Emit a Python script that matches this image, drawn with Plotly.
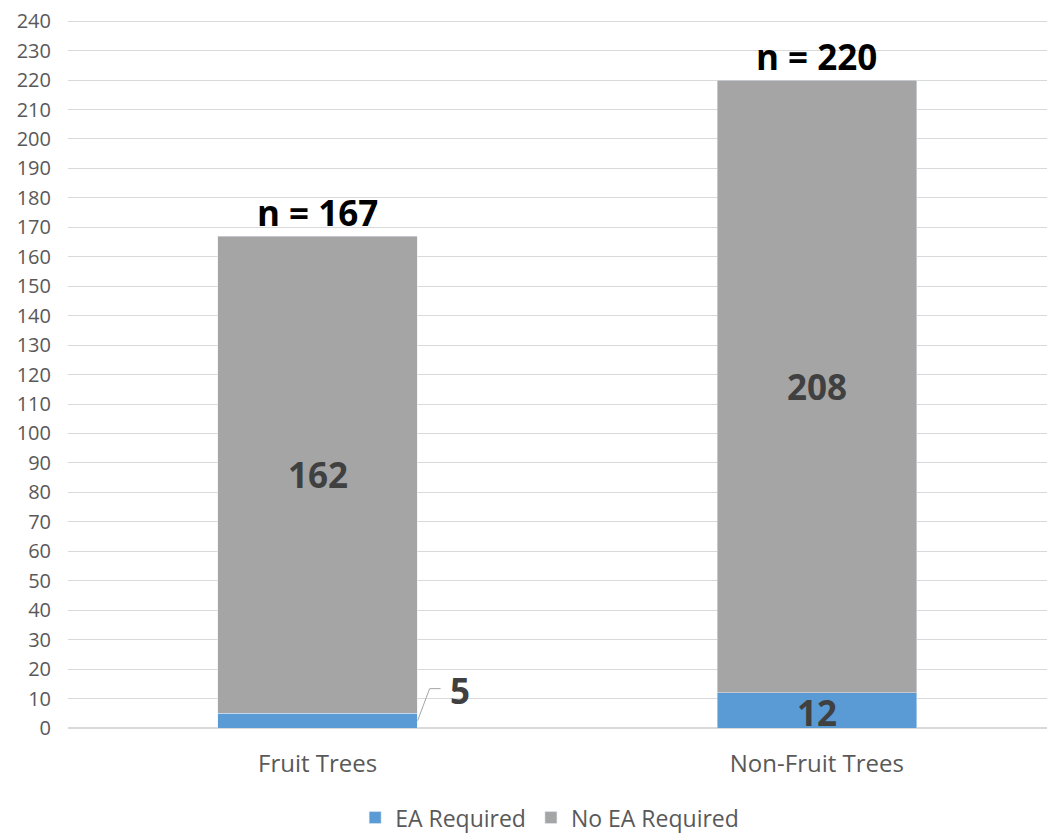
import plotly.graph_objects as go

categories = ["Fruit Trees", "Non-Fruit Trees"]
ea_required = [5, 12]
no_ea_required = [162, 208]
totals = [167, 220]

BLUE = "#5B9BD5"
GRAY = "#A5A5A5"
FONT = "Open Sans, sans-serif"

fig = go.Figure()
fig.add_trace(go.Bar(x=categories, y=ea_required, name="EA Required",
                     marker_color=BLUE, width=0.4))
fig.add_trace(go.Bar(x=categories, y=no_ea_required, name="No EA Required",
                     marker_color=GRAY, width=0.4))

# segment labels
seg_font = dict(family=FONT, size=35, color="#404040")
for i, cat in enumerate(categories):
    v = no_ea_required[i]
    fig.add_annotation(x=cat, y=ea_required[i] + v / 2, text="<b>%d</b>" % v,
                       showarrow=False, font=seg_font)
fig.add_annotation(x=categories[1], y=ea_required[1] / 2, text="<b>%d</b>" % ea_required[1],
                   showarrow=False, font=seg_font, yshift=-2)

# leader label for the small blue segment (elbow line + text)
leader = dict(color="#A5A5A5", width=1)
fig.add_shape(type="line", xref="x", yref="y", xsizemode="pixel", ysizemode="pixel",
              xanchor=0, yanchor=ea_required[0] / 2, x0=100, y0=0, x1=112, y1=32, line=leader)
fig.add_shape(type="line", xref="x", yref="y", xsizemode="pixel", ysizemode="pixel",
              xanchor=0, yanchor=ea_required[0] / 2, x0=112, y0=32, x1=123, y1=32, line=leader)
fig.add_annotation(x=categories[0], y=ea_required[0] / 2, text="<b>%d</b>" % ea_required[0],
                   xshift=142, yshift=30, showarrow=False, font=seg_font)

# total labels on top of each stack
for cat, tot in zip(categories, totals):
    fig.add_annotation(x=cat, y=tot, text="<b>n = %d</b>" % tot, showarrow=False,
                       yanchor="bottom", yshift=-2,
                       font=dict(family=FONT, size=35, color="black"))

fig.update_layout(
    barmode="stack",
    width=1047, height=827,
    margin=dict(l=60, r=0, t=12, b=107),
    plot_bgcolor="white", paper_bgcolor="white",
    font=dict(family=FONT, color="#595959"),
    showlegend=True,
    legend=dict(orientation="h", x=0.488, xanchor="center",
                yref="container", y=0.021, yanchor="middle",
                font=dict(family=FONT, size=23, color="#595959"),
                traceorder="normal"),
    xaxis=dict(range=[-0.5, 1.477], automargin=False,
               tickfont=dict(family=FONT, size=24, color="#595959"),
               showline=True, linecolor="#D9D9D9", ticks="", ticklabelstandoff=14),
    yaxis=dict(range=[0, 240.4], tickvals=list(range(0, 250, 10)),
               gridcolor="#D9D9D9", gridwidth=1, ticklabeloverflow="allow",
               automargin=False, zeroline=True, zerolinecolor="#D9D9D9",
               tickfont=dict(family=FONT, size=20, color="#595959"), ticklabelstandoff=16),
)

fig.write_html("out.html")
